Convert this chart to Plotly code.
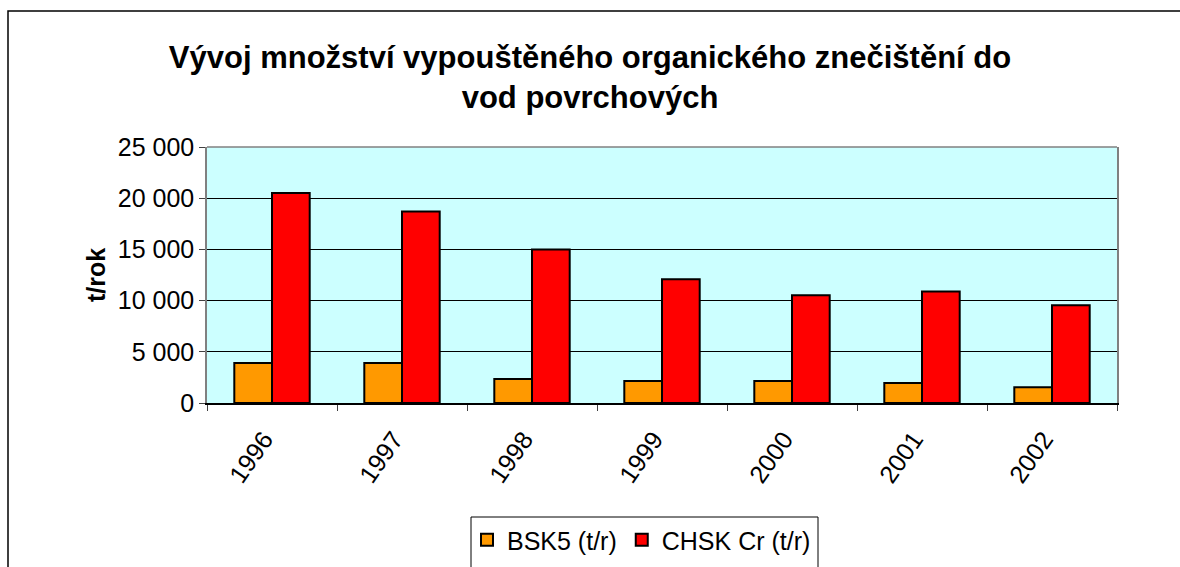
import plotly.graph_objects as go

years = ["1996", "1997", "1998", "1999", "2000", "2001", "2002"]
bsk5 = [3900, 3900, 2350, 2150, 2150, 1950, 1550]
chsk = [20500, 18700, 15000, 12080, 10530, 10900, 9550]

title_text = "Vývoj množství vypouštěného organického znečištění do<br>vod povrchových"
y_title = "t/rok"
names = ["BSK5 (t/r)", "CHSK Cr (t/r)"]

FONT = "Liberation Sans, Arial, sans-serif"

# pixel geometry helpers
L, R, T, B = 207, 1117, 147, 403
W, H = R - L, B - T
def px(x):
    return (x - L) / W
def py(y):
    return (B - y) / H

fig = go.Figure()
fig.add_trace(go.Bar(x=years, y=bsk5, name=names[0],
                     marker=dict(color="#FF9900", line=dict(color="black", width=2))))
fig.add_trace(go.Bar(x=years, y=chsk, name=names[1],
                     marker=dict(color="#FF0000", line=dict(color="black", width=2))))

fig.update_layout(
    width=1180, height=567,
    margin=dict(l=L, r=1180 - R, t=T, b=567 - B, autoexpand=False),
    paper_bgcolor="white",
    plot_bgcolor="#CCFFFF",
    barmode="group", bargap=0.42, bargroupgap=0,
    separators=", ",
    font=dict(family=FONT, size=25, color="black"),
    title=dict(text="<b>" + title_text + "</b>", x=0.5, xanchor="center",
               y=1 - 68 / 567, yanchor="middle",
               font=dict(family=FONT, size=31, color="black")),
    showlegend=True,
    legend=dict(orientation="h", x=px(467), y=py(517), xanchor="left", yanchor="top",
                font=dict(family=FONT, size=25, color="black"),
                bgcolor="rgba(0,0,0,0)", borderwidth=0, itemclick=False,
                itemwidth=30, tracegroupgap=0),
    xaxis=dict(type="category", tickangle=-55, tickson="boundaries",
               ticks="outside", ticklen=6, tickcolor="#404040",
               showline=True, linecolor="black", linewidth=1.5,
               showgrid=False, tickfont=dict(size=25),
               ticklabelshift=-8, ticklabelstandoff=10),
    yaxis=dict(range=[0, 25000], dtick=5000, tickformat=",d",
               ticks="outside", ticklen=6, tickcolor="#404040",
               showline=True, linecolor="#808080", linewidth=1.5, mirror=True,
               showgrid=True, gridcolor="black", gridwidth=1,
               zeroline=False, tickfont=dict(size=25)),
    annotations=[dict(text="<b>" + y_title + "</b>", textangle=-90,
                      x=px(80), y=0.5, xref="paper", yref="paper",
                      showarrow=False, font=dict(family=FONT, size=25, color="black"))],
    shapes=[
        # top border of plot area (gray)
        dict(type="line", xref="paper", yref="paper", x0=0, x1=1, y0=1, y1=1,
             line=dict(color="#808080", width=1.5)),
        # outer chart border (extends beyond visible page)
        dict(type="rect", xref="paper", yref="paper",
             x0=px(8), x1=px(1200), y0=py(600), y1=py(11),
             line=dict(color="black", width=1.5), fillcolor="rgba(0,0,0,0)"),
        # legend box
        dict(type="rect", xref="paper", yref="paper",
             x0=px(471), x1=px(818), y0=py(600), y1=py(517),
             line=dict(color="black", width=1), fillcolor="rgba(0,0,0,0)"),
    ],
)

fig.write_html("out.html", config={"displayModeBar": False},
               post_script="document.body.style.margin='0';document.body.style.overflow='hidden';")
